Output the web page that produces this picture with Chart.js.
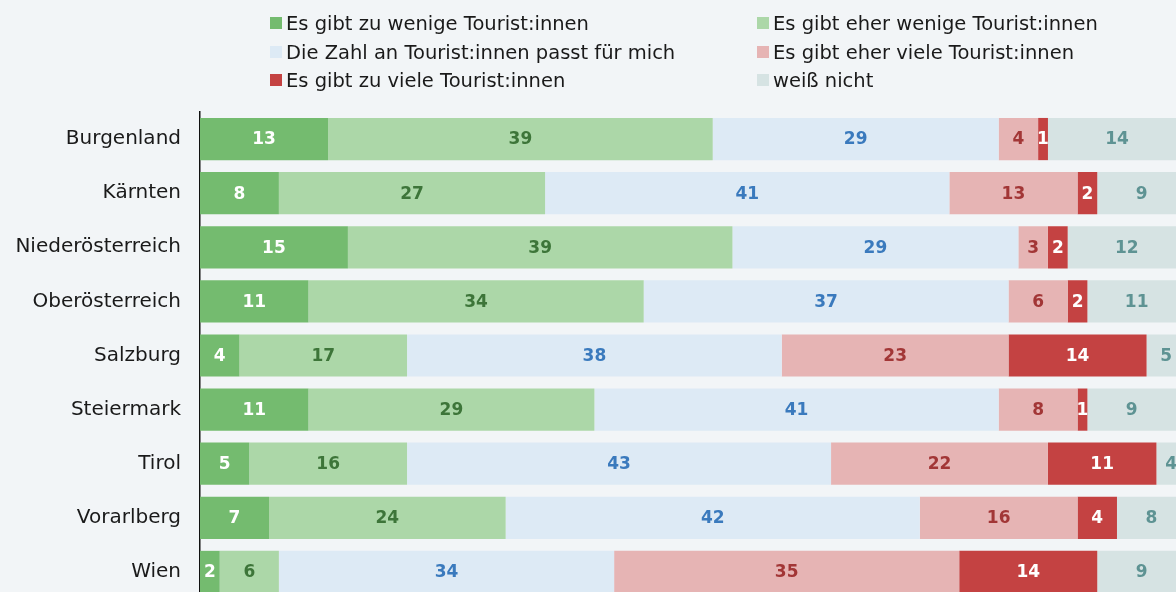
<!DOCTYPE html>
<html>
<head>
<meta charset="utf-8">
<script src="https://cdn.jsdelivr.net/npm/chart.js@4.4.1/dist/chart.umd.min.js"></script>
<style>
  html, body { margin: 0; padding: 0; background: #f2f5f7; }
  #wrap { position: relative; width: 1176px; height: 592px; overflow: hidden; }
  #chart-box { position: absolute; left: 0; top: 0; width: 1186px; height: 630px; }
  #chart-area { display: block; width: 1186px; height: 630px; }
  #legend { position: absolute; left: 0; top: 0; width: 1176px; height: 100px; font-family: "DejaVu Sans", sans-serif; font-size: 19.5px; color: #1a1a1a; }
  .item { position: absolute; white-space: nowrap; line-height: 24px; }
  .item span.box { display: inline-block; width: 12px; height: 12px; margin-right: 4px; vertical-align: 1px; }
</style>
</head>
<body>
<div id="wrap">
  <div id="chart-box"><canvas id="chart-area" width="1186" height="630"></canvas></div>
  <div id="legend"></div>
</div>
<script>
var categories = ["Burgenland", "Kärnten", "Niederösterreich", "Oberösterreich", "Salzburg", "Steiermark", "Tirol", "Vorarlberg", "Wien"];
var seriesNames = ["Es gibt zu wenige Tourist:innen", "Es gibt eher wenige Tourist:innen", "Die Zahl an Tourist:innen passt für mich", "Es gibt eher viele Tourist:innen", "Es gibt zu viele Tourist:innen", "weiß nicht"];
var zuWenige = [13, 8, 15, 11, 4, 11, 5, 7, 2];
var eherWenige = [39, 27, 39, 34, 17, 29, 16, 24, 6];
var passt = [29, 41, 29, 37, 38, 41, 43, 42, 34];
var eherViele = [4, 13, 3, 6, 23, 8, 22, 16, 35];
var zuViele = [1, 2, 2, 2, 14, 1, 11, 4, 14];
var weissNicht = [14, 9, 12, 11, 5, 9, 4, 8, 9];

var fills = ["#74bb6f", "#acd7a8", "#ddeaf5", "#e6b4b4", "#c44242", "#d6e3e3"];
var textColors = ["#ffffff", "#3d7539", "#3a7abd", "#a23636", "#ffffff", "#5e9393"];
var allSeries = [zuWenige, eherWenige, passt, eherViele, zuViele, weissNicht];

// legend in two columns, three rows
var legendPos = [[270, 12], [757, 12], [270, 41], [757, 41], [270, 69], [757, 69]];
var legendBox = document.getElementById("legend");
seriesNames.forEach(function (name, i) {
    var d = document.createElement("div");
    d.className = "item";
    d.style.left = legendPos[i][0] + "px";
    d.style.top = legendPos[i][1] + "px";
    d.innerHTML = '<span class="box" style="background:' + fills[i] + '"></span>' + name;
    legendBox.appendChild(d);
});

var barLabels = {
    id: "barLabels",
    afterDatasetsDraw: function (chart) {
        var ctx = chart.ctx;
        var area = chart.chartArea;
        ctx.save();
        ctx.font = "bold 17px 'DejaVu Sans', sans-serif";
        ctx.textAlign = "center";
        ctx.textBaseline = "middle";
        chart.data.datasets.forEach(function (ds, i) {
            var meta = chart.getDatasetMeta(i);
            meta.data.forEach(function (bar, j) {
                var a = Math.max(Math.min(bar.base, bar.x), area.left);
                var b = Math.min(Math.max(bar.base, bar.x), area.right);
                ctx.fillStyle = textColors[i];
                ctx.fillText(ds.data[j], (a + b) / 2, bar.y + 1);
            });
        });
        ctx.restore();
    }
};

var datasets = allSeries.map(function (vals, i) {
    return {
        label: seriesNames[i],
        data: vals,
        backgroundColor: fills[i],
        borderWidth: 0,
        categoryPercentage: 1,
        barPercentage: 0.78
    };
});

window.onload = function () {
    var ctx = document.getElementById("chart-area").getContext("2d");
    window.myBar = new Chart(ctx, {
        type: "bar",
        data: { labels: categories, datasets: datasets },
        plugins: [barLabels],
        options: {
            indexAxis: "y",
            responsive: false,
            maintainAspectRatio: false,
            animation: false,
            layout: { padding: { top: 112, left: 0, right: 0, bottom: 0 } },
            plugins: {
                legend: { display: false },
                tooltip: { enabled: false }
            },
            scales: {
                x: {
                    stacked: true,
                    min: 0,
                    max: 100,
                    display: false
                },
                y: {
                    stacked: true,
                    grid: { display: false, drawTicks: false },
                    border: { display: true, color: "#111111", width: 1.5 },
                    ticks: {
                        color: "#1a1a1a",
                        padding: 19,
                        font: { family: "'DejaVu Sans', sans-serif", size: 20 }
                    },
                    afterFit: function (scale) { scale.width = 200; }
                }
            }
        }
    });
};
</script>
</body>
</html>
